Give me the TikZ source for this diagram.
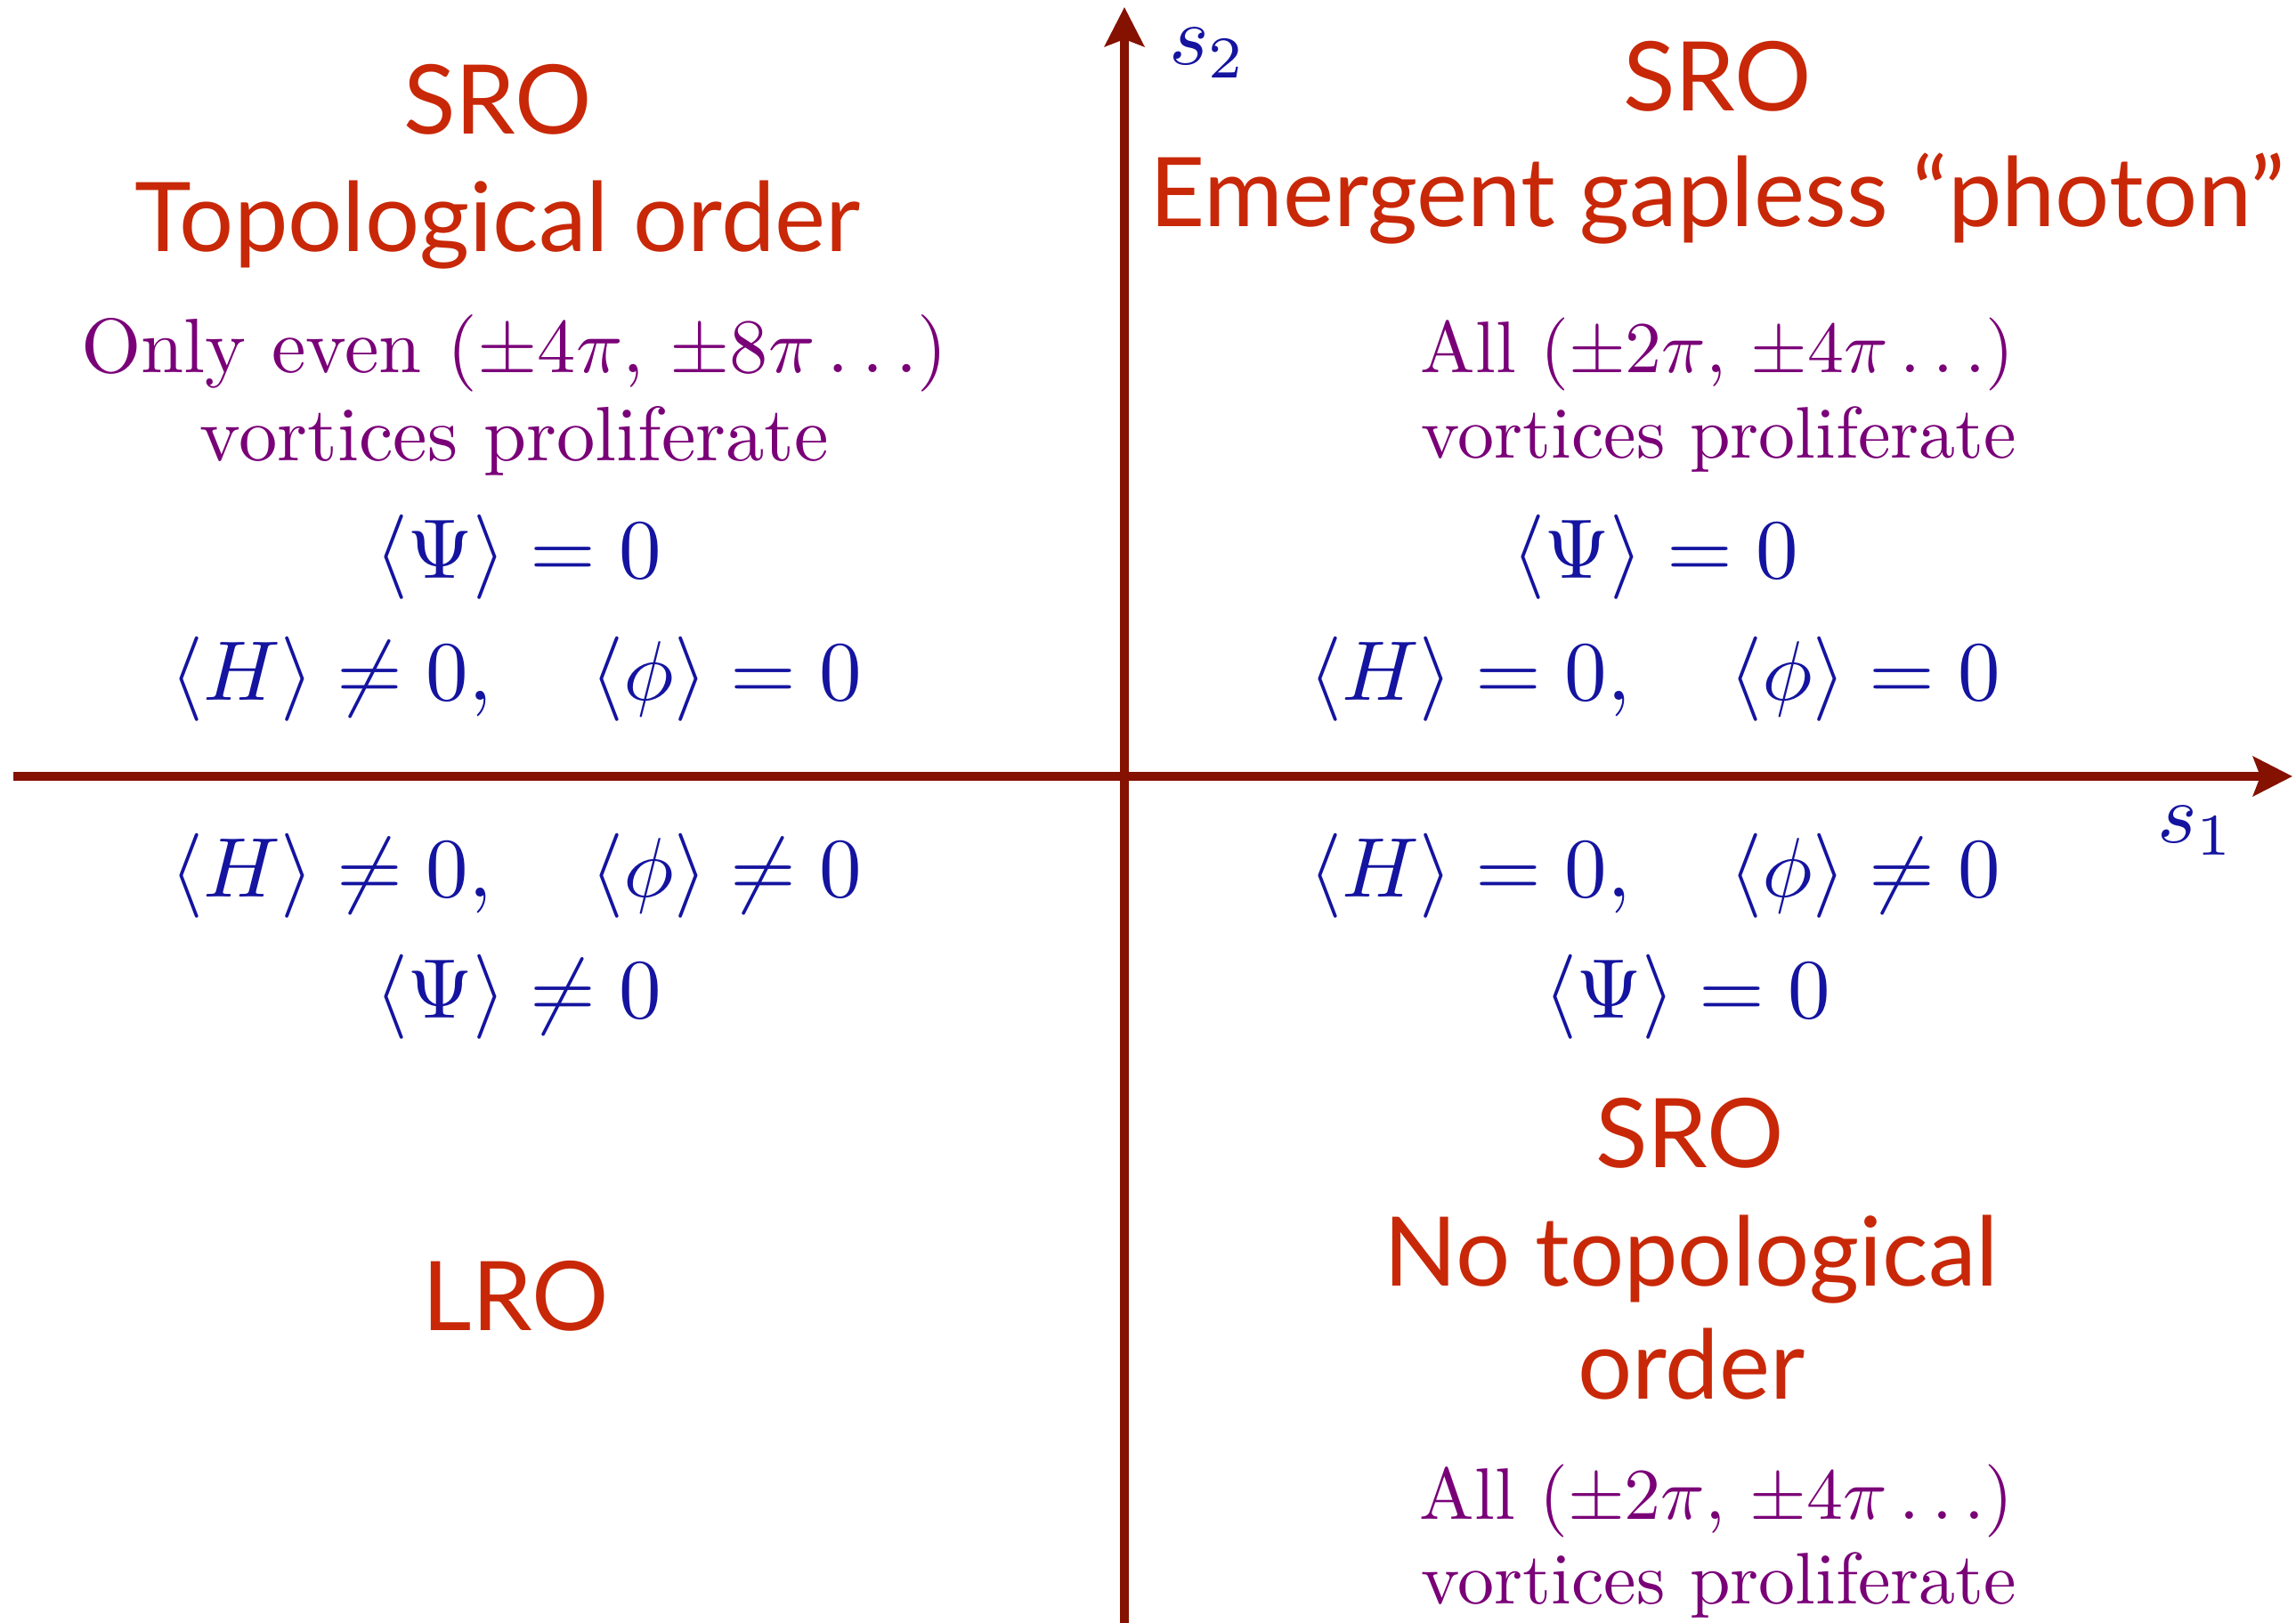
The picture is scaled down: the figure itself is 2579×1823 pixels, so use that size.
\RequirePackage{fix-cm}
\documentclass[tikz,border=0pt]{standalone}
\usepackage{fontspec}
\newfontfamily\gillfont{Lato}
\usetikzlibrary{arrows.meta}
\definecolor{axisred}{HTML}{851100}
\definecolor{titlered}{HTML}{C82808}
\definecolor{vpurple}{HTML}{7A0078}
\definecolor{mblue}{HTML}{1414A0}
\begin{document}
\begin{tikzpicture}[x=0.5pt,y=-0.5pt,
  title/.style={text=titlered, font=\gillfont, scale=5.4, anchor=base, inner sep=0pt},
  vortbase/.style={text=vpurple, font=\normalsize, anchor=base, inner sep=0pt},
  vort/.style={vortbase, scale=4.1},
  vortbig/.style={vortbase, scale=4.33},
  eq/.style={text=mblue, font=\normalsize, scale=4.75, anchor=base, inner sep=0pt},
  axisline/.style={draw=axisred, line width=5.25pt, -{Stealth[length=22pt,width=22pt,inset=4pt]}}]
\useasboundingbox (0,0) rectangle (2579,1823);
% axes
\coordinate (xstart) at (15,872);
\coordinate (xend) at (2575,872);
\coordinate (ystart) at (1263,1830);
\coordinate (yend) at (1263,8);
\draw[axisline] (xstart) -- (xend);
\draw[axisline] (ystart) -- (yend);
\node[eq] (s2) at (1357,73) {$s_2$};
\node[eq] (s1) at (2467,946) {$s_1$};
% top left
\node[title] (tlsro) at (559,151) {SRO};
\node[title] (tltop) at (559,283) {Topological order};
\node[vortbig] (tlv1) at (578,419) {Only even ($\pm4\pi$, $\pm8\pi\ldots$)};
\node[vortbig] (tlv2) at (578,518) {vortices proliferate};
\node[eq] (tlpsi) at (582,650) {$\langle\Psi\rangle = 0$};
\node[eq] (tlh) at (580,786) {$\langle H\rangle \neq 0,\quad \langle\phi\rangle = 0$};
% top right
\node[title] (trsro) at (1929,125) {SRO};
\node[title] (trem) at (1929,255) {Emergent gapless “photon”};
\node[vort] (trv1) at (1929,419) {All ($\pm2\pi$, $\pm4\pi\ldots$)};
\node[vort] (trv2) at (1931,515) {vortices proliferate};
\node[eq] (trpsi) at (1859,650) {$\langle\Psi\rangle = 0$};
\node[eq] (trh) at (1859,786) {$\langle H\rangle = 0,\quad \langle\phi\rangle = 0$};
% bottom left
\node[eq] (blh) at (580,1007) {$\langle H\rangle \neq 0,\quad \langle\phi\rangle \neq 0$};
\node[eq] (blpsi) at (582,1143) {$\langle\Psi\rangle \neq 0$};
\node[title] (bllro) at (579,1494) {LRO};
% bottom right
\node[eq] (brh) at (1859,1007) {$\langle H\rangle = 0,\quad \langle\phi\rangle \neq 0$};
\node[eq] (brpsi) at (1895,1143) {$\langle\Psi\rangle = 0$};
\node[title] (brsro) at (1898,1311) {SRO};
\node[title] (brno) at (1900,1444) {No topological};
\node[title] (brord) at (1900,1571) {order};
\node[vort] (brv1) at (1928,1706) {All ($\pm2\pi$, $\pm4\pi\ldots$)};
\node[vort] (brv2) at (1931,1801) {vortices proliferate};
\end{tikzpicture}
\end{document}
